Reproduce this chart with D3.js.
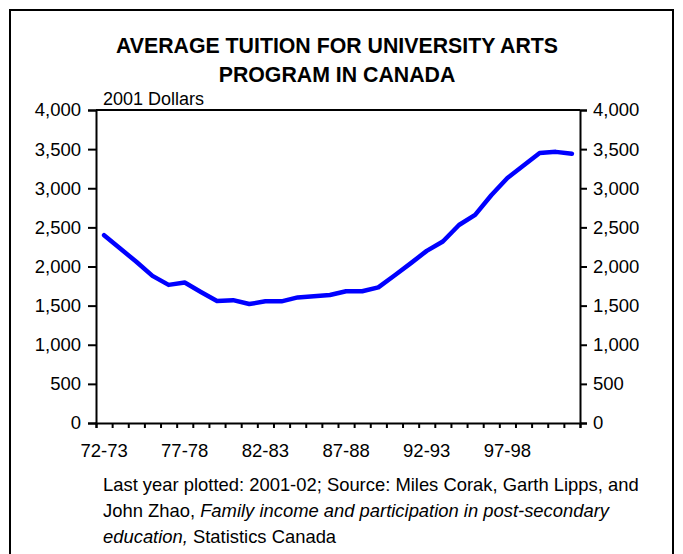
<!DOCTYPE html>
<html>
<head>
<meta charset="utf-8">
<script src="https://cdn.jsdelivr.net/npm/d3@7"></script>
<style>
  html, body { margin: 0; padding: 0; background: #fff; }
  svg { display: block; }
  text { font-family: "Liberation Sans", Arial, sans-serif; fill: #000; }
</style>
</head>
<body>
<svg id="chart" width="683" height="554"></svg>
<script>
const categories = ["72-73","73-74","74-75","75-76","76-77","77-78","78-79","79-80","80-81","81-82",
  "82-83","83-84","84-85","85-86","86-87","87-88","88-89","89-90","90-91","91-92",
  "92-93","93-94","94-95","95-96","96-97","97-98","98-99","99-00","00-01","01-02"];
const tuition = [2400,2230,2060,1880,1765,1795,1675,1560,1570,1520,
  1555,1555,1605,1620,1635,1683,1683,1734,1885,2040,
  2200,2320,2530,2660,2910,3130,3290,3450,3465,3440];
const xLabels = ["72-73","77-78","82-83","87-88","92-93","97-98"];
const yTicks = [0,500,1000,1500,2000,2500,3000,3500,4000];
const titleLines = ["AVERAGE TUITION FOR UNIVERSITY ARTS", "PROGRAM IN CANADA"];
const unitLabel = "2001 Dollars";

const svg = d3.select("#chart");
const L = 96, R = 580, T = 110, B = 423;

// outer frame
svg.append("rect").attr("x", 10).attr("y", 10).attr("width", 663).attr("height", 580)
  .attr("fill", "none").attr("stroke", "#000").attr("stroke-width", 2);

// title
svg.append("g").selectAll("text").data(titleLines).join("text")
  .attr("x", 337).attr("y", (d, i) => 52.5 + i * 29.5)
  .attr("text-anchor", "middle").attr("font-weight", "bold").attr("font-size", 21.3)
  .text(d => d);

const x = d3.scaleBand().domain(categories).range([L, R]).padding(0);
const xb = d3.scaleLinear().domain([0, categories.length]).range([L, R]);
const y = d3.scaleLinear().domain([0, 4000]).range([B, T]);

// plot frame top line
svg.append("line").attr("x1", L).attr("x2", R).attr("y1", T).attr("y2", T)
  .attr("stroke", "#000").attr("stroke-width", 2);

// left axis
const ga = svg.append("g").attr("transform", `translate(${L},0)`)
  .call(d3.axisLeft(y).tickValues(yTicks).tickFormat(d3.format(",")).tickSize(8).tickPadding(7));
// right axis
const gr = svg.append("g").attr("transform", `translate(${R},0)`)
  .call(d3.axisRight(y).tickValues(yTicks).tickFormat(d3.format(",")).tickSize(7).tickPadding(6));
// bottom tick marks
const gb = svg.append("g").attr("transform", `translate(0,${B})`)
  .call(d3.axisBottom(xb).tickValues(d3.range(0, categories.length + 1)).tickFormat("").tickSize(5));
// bottom labels
const gl = svg.append("g").attr("transform", `translate(0,${B})`)
  .call(d3.axisBottom(x).tickValues(xLabels).tickSize(0).tickPadding(20.5));
gl.select(".domain").remove();

[ga, gr, gb].forEach(g => {
  g.select(".domain").attr("stroke", "#000").attr("stroke-width", 2);
  g.selectAll(".tick line").attr("stroke", "#000").attr("stroke-width", 2);
});
[ga, gr, gl].forEach(g => {
  g.selectAll("text").attr("font-size", 18.5).attr("font-family", '"Liberation Sans", Arial, sans-serif').attr("fill", "#000");
});

// unit label
svg.append("text").attr("x", 103).attr("y", 105).attr("font-size", 18).text(unitLabel);

// line
const line = d3.line()
  .x((d, i) => x(categories[i]) + x.bandwidth() / 2)
  .y(d => y(d));
svg.append("path").datum(tuition).attr("d", line)
  .attr("fill", "none").attr("stroke", "#0000FF").attr("stroke-width", 4.5)
  .attr("stroke-linejoin", "round").attr("stroke-linecap", "round");

// note
const note = svg.append("g").attr("font-size", 18.4);
const t1 = note.append("text").attr("x", 103).attr("y", 491);
t1.append("tspan").text("Last year plotted: 2001-02; Source: Miles Corak, Garth Lipps, and");
const t2 = note.append("text").attr("x", 103).attr("y", 517);
t2.append("tspan").text("John Zhao, ");
t2.append("tspan").attr("font-style", "italic").text("Family income and participation in post-secondary");
const t3 = note.append("text").attr("x", 103).attr("y", 543);
t3.append("tspan").attr("font-style", "italic").text("education,");
t3.append("tspan").text(" Statistics Canada");
</script>
</body>
</html>
